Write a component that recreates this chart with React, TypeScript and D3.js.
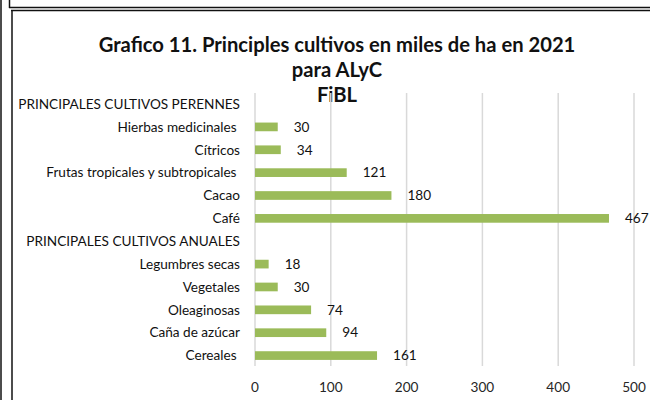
import React, { useEffect, useRef } from "react";
import * as d3 from "d3";

// rows from top to bottom; headers have no value
const categories = [
  "PRINCIPALES CULTIVOS PERENNES",
  "Hierbas medicinales ",
  "Cítricos",
  "Frutas tropicales y subtropicales ",
  "Cacao",
  "Café",
  "PRINCIPALES CULTIVOS ANUALES",
  "Legumbres secas",
  "Vegetales",
  "Oleaginosas",
  "Caña de azúcar",
  "Cereales ",
];
const values: (number | null)[] = [null, 30, 34, 121, 180, 467, null, 18, 30, 74, 94, 161];
const ticks = [0, 100, 200, 300, 400, 500];
const titleLines = ["Grafico 11. Principles cultivos en miles de ha en 2021", "para ALyC", "FiBL"];

const W = 650;
const H = 400;
const font = "Lato, 'Open Sans', sans-serif";

export default function App() {
  const svgRef = useRef<SVGSVGElement>(null);

  useEffect(() => {
    const svg = d3.select(svgRef.current);
    svg.selectAll("*").remove();

    // frame lines
    const frame = svg.append("g").attr("stroke", "#111").attr("stroke-width", 1.5).attr("fill", "none");
    frame.append("line").attr("x1", 1).attr("x2", 1).attr("y1", 0).attr("y2", H);
    frame.append("line").attr("x1", 9.5).attr("x2", 9.5).attr("y1", 0).attr("y2", 8);
    frame.append("line").attr("x1", 9).attr("x2", W).attr("y1", 7.5).attr("y2", 7.5);
    frame.append("line").attr("x1", 12).attr("x2", 12).attr("y1", 10).attr("y2", H);
    frame.append("line").attr("x1", 11).attr("x2", W).attr("y1", 10.5).attr("y2", 10.5);

    // title
    const cx = 337;
    svg
      .append("g")
      .selectAll("text")
      .data(titleLines)
      .enter()
      .append("text")
      .attr("x", cx)
      .attr("y", (_, i) => 52 + i * 25)
      .attr("text-anchor", "middle")
      .attr("font-family", font)
      .attr("font-weight", "bold")
      .attr("font-size", 20.2)
      .attr("fill", "#111")
      .text((d) => d);

    const x = d3.scaleLinear().domain([0, 500]).range([255, 634]);
    const y = d3.scaleBand<number>().domain(d3.range(categories.length)).range([92.6, 367]).paddingInner(0.62).paddingOuter(0.31);

    // gridlines
    svg
      .append("g")
      .selectAll("line")
      .data(ticks)
      .enter()
      .append("line")
      .attr("x1", (d) => x(d))
      .attr("x2", (d) => x(d))
      .attr("y1", 93)
      .attr("y2", 366)
      .attr("stroke", "#d9d9d9")
      .attr("stroke-width", 1.5);

    // tick labels
    svg
      .append("g")
      .selectAll("text")
      .data(ticks)
      .enter()
      .append("text")
      .attr("x", (d) => x(d))
      .attr("y", 392)
      .attr("text-anchor", "middle")
      .attr("font-family", font)
      .attr("font-size", 13.6)
      .attr("fill", "#262626")
      .text((d) => d);

    const rows = categories.map((c, i) => ({ c, v: values[i], i }));

    // category labels
    svg
      .append("g")
      .selectAll("text")
      .data(rows)
      .enter()
      .append("text")
      .attr("x", 240)
      .attr("y", (d) => y(d.i)! + y.bandwidth() / 2)
      .attr("dy", "0.35em")
      .attr("text-anchor", "end")
      .attr("font-family", font)
      .attr("font-size", 13.6)
      .attr("fill", "#111")
      .style("white-space", "pre")
      .text((d) => d.c);

    const data = rows.filter((d) => d.v !== null);

    svg
      .append("g")
      .selectAll("rect")
      .data(data)
      .enter()
      .append("rect")
      .attr("x", x(0))
      .attr("y", (d) => y(d.i)!)
      .attr("width", (d) => x(d.v as number) - x(0))
      .attr("height", y.bandwidth())
      .attr("fill", "#9bbb59");

    svg
      .append("g")
      .selectAll("text")
      .data(data)
      .enter()
      .append("text")
      .attr("x", (d) => x(d.v as number) + 16)
      .attr("y", (d) => y(d.i)! + y.bandwidth() / 2)
      .attr("dy", "0.35em")
      .attr("font-family", font)
      .attr("font-size", 13.6)
      .attr("fill", "#111")
      .text((d) => String(d.v));
  }, []);

  return (
    <svg
      ref={svgRef}
      width={W}
      height={H}
      style={{ position: "absolute", left: 0, top: 0, background: "#fff" }}
    />
  );
}
